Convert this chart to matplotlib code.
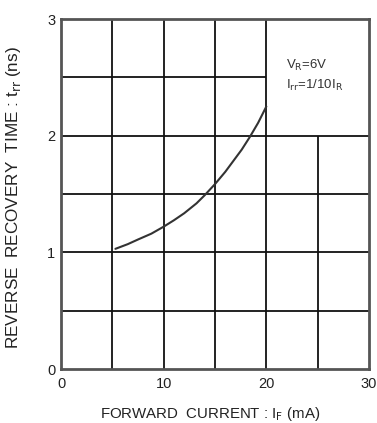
import matplotlib
matplotlib.use('Agg')
import matplotlib.pyplot as plt

plt.rcParams['font.family'] = ['Liberation Sans', 'DejaVu Sans']

# curve
forward_current = [5.3, 6.5, 7.5, 8.8, 10, 11, 12, 13.2, 14, 15, 16, 16.8, 17.6, 18.4, 19.2, 20]
recovery_time = [1.03, 1.07, 1.11, 1.16, 1.22, 1.275, 1.335, 1.42, 1.49, 1.585, 1.69, 1.785, 1.88, 1.99, 2.11, 2.25]

x_ticks = [0, 10, 20, 30]
y_ticks = [0, 1, 2, 3]

fig = plt.figure(figsize=(3.77, 4.23), dpi=100)
ax = fig.add_axes([61 / 377, 1 - 369 / 423, 308 / 377, 350 / 423])
ax.set_xlim(0, 30)
ax.set_ylim(0, 3)

# grid, with the upper-right cell left open for the condition text
gc = '#111111'
for gx in [5, 10, 15, 20]:
    ax.vlines(gx, 0, 3, color=gc, lw=1.3)
ax.vlines(25, 0, 2, color=gc, lw=1.3)
for gy in [0.5, 1, 1.5, 2]:
    ax.hlines(gy, 0, 30, color=gc, lw=1.3)
ax.hlines(2.5, 0, 20, color=gc, lw=1.3)

ax.plot(forward_current, recovery_time, color='#333333', lw=1.5, solid_capstyle='round')

ax.text(21.9, 2.60, r'V$_{\rm R}$=6V', fontsize=9.5, va='center', color='#333333')
ax.text(21.9, 2.43, r'I$_{\rm rr}$=1/10I$_{\rm R}$', fontsize=9.5, va='center', color='#333333')

for s in ax.spines.values():
    s.set_color('#555555')
    s.set_linewidth(2.0)

ax.set_xticks(x_ticks)
ax.set_yticks(y_ticks)
ax.set_xticklabels([str(v) for v in x_ticks], fontsize=10.5, color='#222222')
ax.set_yticklabels([str(v) for v in y_ticks], fontsize=10.5, color='#222222')
ax.tick_params(axis='x', length=0, pad=6)
ax.tick_params(axis='y', length=0, pad=4)

ax.set_xlabel(r'FORWARD  CURRENT : I$_{\rm F}$ (mA)', fontsize=10.8, color='#222222')
ax.xaxis.set_label_coords(0.484, -0.103)
ax.set_ylabel(r'REVERSE  RECOVERY  TIME : t$_{\rm rr}$ (ns)', fontsize=12.3, color='#222222')
ax.yaxis.set_label_coords(-0.124, 0.491)

fig.savefig('out.png', dpi=100, facecolor='white')
